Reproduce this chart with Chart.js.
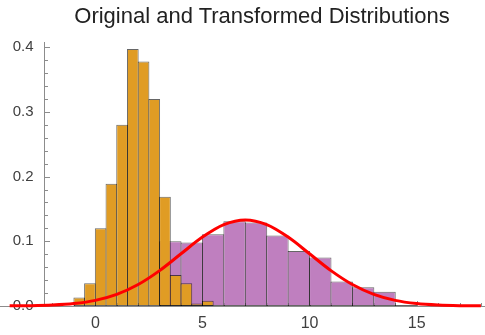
<!DOCTYPE html>
<html>
<head>
<meta charset="utf-8">
<script src="https://cdn.jsdelivr.net/npm/chart.js@4.4.0/dist/chart.umd.min.js"></script>
<style>
  body { margin: 0; background: #fff; }
  #wrap { position: relative; width: 485px; height: 335px; }
  #title {
    position: absolute; left: 42px; top: 3px; width: 440px;
    text-align: center; font: 22px "Liberation Sans", Arial, sans-serif;
    line-height: 26px; color: #222;
  }
</style>
</head>
<body>
<div id="wrap">
  <canvas id="chart" width="485" height="335"></canvas>
  <div id="title">Original and Transformed Distributions</div>
</div>
<script>
// original sample, bins of width 0.5 (bin centres)
const orangeBins = [-0.75, -0.25, 0.25, 0.75, 1.25, 1.75, 2.25, 2.75, 3.25, 3.75, 4.25, 4.75, 5.25];
const orangeDensity = [0.013, 0.035, 0.120, 0.189, 0.280, 0.397, 0.378, 0.320, 0.169, 0.048, 0.035, 0.004, 0.008];

// transformed sample, bins of width 1 (bin centres)
const purpleBins = [3.5, 4.5, 5.5, 6.5, 7.5, 8.5, 9.5, 10.5, 11.5, 12.5, 13.5, 14.5];
const purpleDensity = [0.100, 0.098, 0.111, 0.131, 0.129, 0.109, 0.085, 0.075, 0.038, 0.029, 0.022, 0.0015];

// fitted density curve
const curveX = [-4, -3, -2, -1, 0, 1, 2, 3, 4, 5, 6, 7, 8, 9, 10, 11, 12, 13, 14, 15, 16, 17, 18];
const curveY = [0.0002, 0.0005, 0.0015, 0.0038, 0.0087, 0.0180, 0.0332, 0.0547, 0.0807, 0.1065, 0.1258, 0.1330,
                0.1258, 0.1065, 0.0807, 0.0547, 0.0332, 0.0180, 0.0087, 0.0038, 0.0015, 0.0005, 0.0002];

const xMin = -4.45, xMax = 18.19, yMax = 0.408;
const yAxisAt = -2.37;      // where the y axis crosses
const yLabelsAt = -2.88;    // right edge of the y tick labels
const axisGray = '#8c8c8c';
const labelFont = { family: '"Liberation Sans", Arial, sans-serif' };

const toPoints = (xs, ys) => xs.map((x, i) => ({ x: x, y: ys[i] }));

// Mathematica style inward ticks, major + minor
const inwardTicks = {
    id: 'inwardTicks',
    beforeDatasetsDraw(chart) {
        const { ctx, scales: { x, y } } = chart;
        const ax = Math.round(x.getPixelForValue(yAxisAt));
        ctx.save();
        ctx.strokeStyle = axisGray;
        ctx.lineWidth = 1;
        ctx.beginPath();
        for (let v = -2; v <= 18; v++) {
            const px = Math.round(x.getPixelForValue(v)) + 0.5;
            const len = v % 5 === 0 ? 5 : 3;
            ctx.moveTo(px, y.bottom);
            ctx.lineTo(px, y.bottom - len);
        }
        for (let i = 0; i <= 20; i++) {
            const py = Math.round(y.getPixelForValue(i * 0.02)) + 0.5;
            const len = i % 5 === 0 ? 5 : 3;
            ctx.moveTo(ax, py);
            ctx.lineTo(ax + len, py);
        }
        ctx.stroke();
        ctx.restore();
    }
};

// invisible x axes, one per histogram so each gets its own bin width
const binAxis = () => ({
    type: 'linear', position: 'bottom', display: true, offset: false, min: xMin, max: xMax,
    grid: { display: false, drawTicks: false },
    border: { display: false },
    ticks: { display: false, stepSize: 5, includeBounds: false },
    afterFit: s => { s.height = 0; }
});

new Chart(document.getElementById('chart'), {
    data: {
        datasets: [
            {
                type: 'line',
                data: toPoints(curveX, curveY),
                xAxisID: 'x',
                borderColor: '#ff0000',
                borderWidth: 3,
                pointRadius: 0,
                cubicInterpolationMode: 'monotone',
                fill: false,
                clip: false,
                order: 0
            },
            {
                type: 'bar',
                data: toPoints(orangeBins, orangeDensity),
                xAxisID: 'xOrange',
                backgroundColor: '#e09c24',
                borderColor: 'rgba(0,0,0,0.6)',
                borderWidth: 1,
                borderSkipped: false,
                grouped: false,
                categoryPercentage: 1,
                barPercentage: 1.093,
                order: 1
            },
            {
                type: 'bar',
                data: toPoints(purpleBins, purpleDensity),
                xAxisID: 'xPurple',
                backgroundColor: '#bf7fbf',
                borderColor: 'rgba(0,0,0,0.6)',
                borderWidth: 1,
                borderSkipped: false,
                grouped: false,
                categoryPercentage: 1,
                barPercentage: 1.047,
                order: 2
            }
        ]
    },
    options: {
        responsive: false,
        animation: false,
        layout: { padding: { top: 42, left: 0, right: 0, bottom: 2 } },
        plugins: { legend: { display: false }, tooltip: { enabled: false }, title: { display: false } },
        scales: {
            x: {
                type: 'linear', position: 'bottom', min: xMin, max: xMax,
                grid: { display: false, drawTicks: false },
                border: { display: true, color: axisGray },
                ticks: { stepSize: 5, includeBounds: false, padding: 8, color: '#404040', font: { ...labelFont, size: 16 } },
                afterFit: s => { s.height = 27; }
            },
            xOrange: binAxis(),
            xPurple: binAxis(),
            y: {
                type: 'linear', position: { x: yAxisAt }, min: 0, max: yMax,
                grid: { display: false, drawTicks: false },
                border: { display: true, color: axisGray },
                ticks: { display: false, stepSize: 0.1, includeBounds: false }
            },
            yLabels: {
                type: 'linear', axis: 'y', position: { x: yLabelsAt }, min: 0, max: yMax,
                grid: { display: false, drawTicks: false },
                border: { display: false },
                ticks: { stepSize: 0.1, includeBounds: false, padding: 0, color: '#404040', font: { ...labelFont, size: 15 },
                         callback: v => v.toFixed(1) }
            }
        }
    },
    plugins: [inwardTicks]
});
</script>
</body>
</html>
